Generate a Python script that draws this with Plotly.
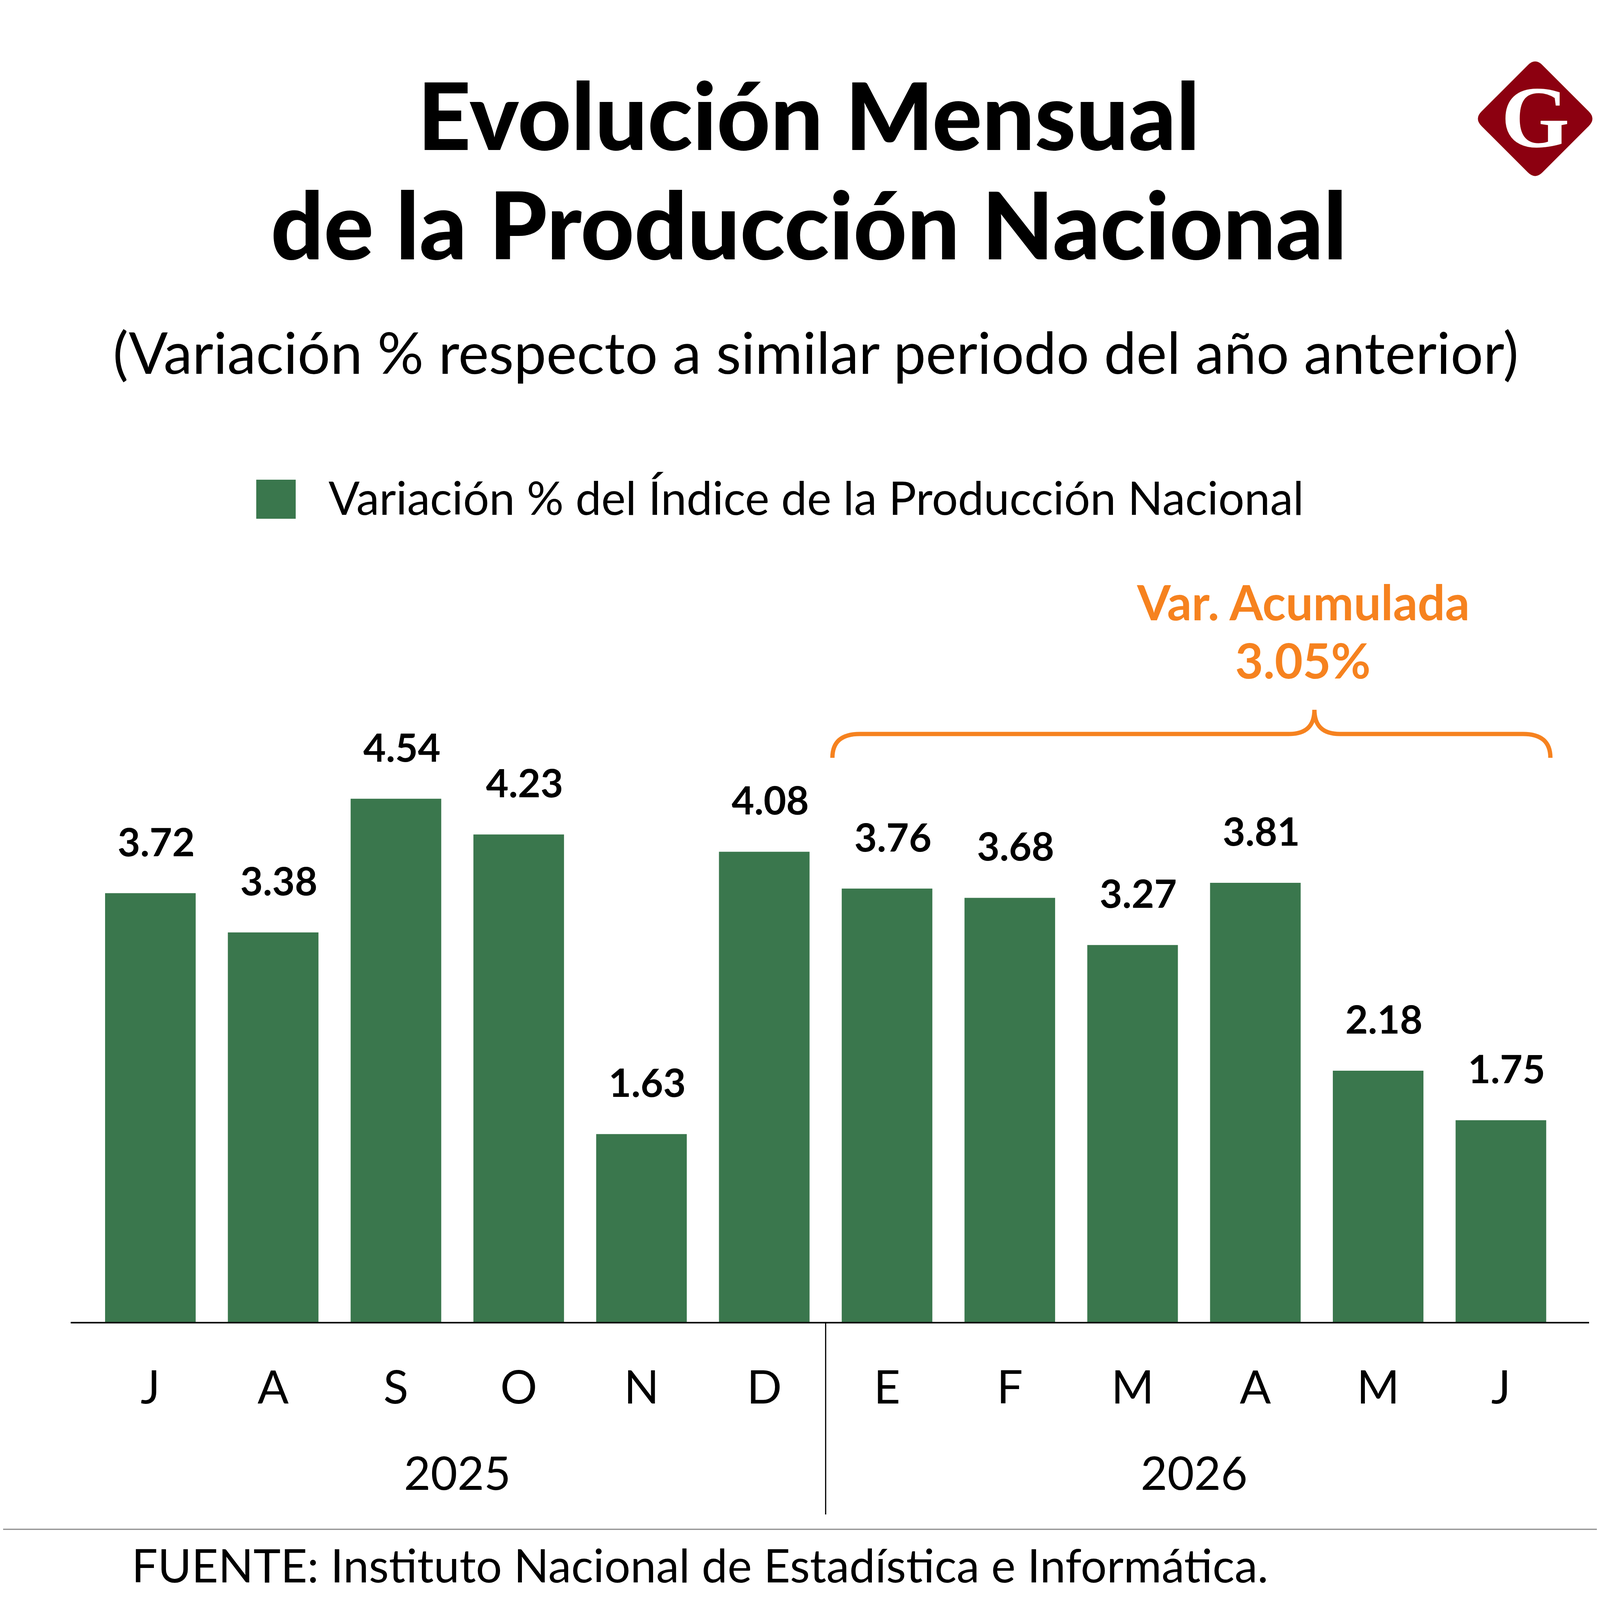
import plotly.graph_objects as go

# datos
meses = ["J", "A", "S", "O", "N", "D", "E", "F", "M", "A", "M", "J"]
anios = ["2025", "2026"]
variacion = [3.72, 3.38, 4.54, 4.23, 1.63, 4.08, 3.76, 3.68, 3.27, 3.81, 2.18, 1.75]
var_acumulada = 3.05

W, H = 4150, 4580
L, R_EDGE = 181, 4068   # plot area, px (reference coords)
TOP, BASE = 1319, 3384
OFF = 8                 # body margin of the html page

VERDE = "#3a774d"
NARANJA = "#f6821f"
GRANATE = "#8c0010"
FONT = "Lato"


def px(x):
    return (x - L) / (R_EDGE - L)


def py(y):
    return (BASE - y) / (BASE - TOP)


x = list(range(len(meses)))

fig = go.Figure()
fig.add_trace(go.Bar(x=x, y=variacion, width=0.738, marker=dict(color=VERDE, line=dict(width=0)),
                     showlegend=False, hoverinfo="skip"))

ann = []
# etiquetas de valor
for i, v in zip(x, variacion):
    ann.append(dict(x=i, y=v, xref="x", yref="y", text=f"{v:.2f}", showarrow=False,
                    yanchor="bottom", yshift=72, xshift=15,
                    font=dict(family=FONT, size=100, color="black", weight=700)))

# años
for k, a in enumerate(anios):
    ann.append(dict(x=2.5 + 6 * k, y=py(3768), xref="x", yref="paper", text=a, showarrow=False,
                    yanchor="middle", font=dict(family=FONT, size=118, color="black")))

# titulo y subtitulo
for txt, yy in [("Evolución Mensual", 292), ("de la Producción Nacional", 572)]:
    ann.append(dict(x=px(2070), y=py(yy), xref="paper", yref="paper", text=txt, showarrow=False,
                    yanchor="middle", font=dict(family=FONT, size=238, color="black", weight=900)))
ann.append(dict(x=px(2088), y=py(900), xref="paper", yref="paper",
                text="(Variación % respecto a similar periodo del año anterior)", showarrow=False,
                yanchor="middle", font=dict(family=FONT, size=148, color="black")))

# leyenda
ann.append(dict(x=px(839), y=py(1272), xref="paper", yref="paper", xanchor="left",
                text="Variación % del Índice de la Producción Nacional", showarrow=False,
                yanchor="middle", font=dict(family=FONT, size=118, color="black")))

# acumulada
ann.append(dict(x=9.389, y=py(1540), xref="x", yref="paper", text="Var. Acumulada", showarrow=False,
                yanchor="middle", font=dict(family=FONT, size=124, color=NARANJA, weight=700)))
ann.append(dict(x=9.389, y=py(1689), xref="x", yref="paper", text=f"{var_acumulada:.2f}%", showarrow=False,
                yanchor="middle", font=dict(family=FONT, size=124, color=NARANJA, weight=700)))

# fuente (subida para que quede dentro de la captura)
ann.append(dict(x=px(335), y=py(4005), xref="paper", yref="paper", xanchor="left",
                text="FUENTE: Instituto Nacional de Estadística e Informática.", showarrow=False,
                yanchor="middle", font=dict(family=FONT, size=118, color="black")))

# logo G
ann.append(dict(x=px(3930), y=py(300), xref="paper", yref="paper", text="G", showarrow=False,
                xanchor="center", yanchor="middle",
                font=dict(family="Liberation Serif", size=225, color="white", weight=700)))

shapes = []
# llave
xl, xr, xp = 5.555, 11.403, 9.481
yb, yh, yp = 4.895, 5.102, 5.312
dx, pdx = 0.223, 0.207
path = (f"M {xl},{yb} Q {xl},{yh} {xl + dx},{yh} L {xp - pdx},{yh} Q {xp},{yh} {xp},{yp} "
        f"Q {xp},{yh} {xp + pdx},{yh} L {xr - dx},{yh} Q {xr},{yh} {xr},{yb}")
shapes.append(dict(type="path", path=path, xref="x", yref="y", line=dict(color=NARANJA, width=11)))

# divisor de años
shapes.append(dict(type="line", x0=5.5, x1=5.5, y0=py(3384), y1=py(3877), xref="x", yref="paper",
                   line=dict(color="black", width=3)))
# linea gris
shapes.append(dict(type="line", x0=px(0), x1=px(W), y0=py(3915), y1=py(3915), xref="paper", yref="paper",
                   line=dict(color="#8a8a8a", width=3)))
# cuadro leyenda
shapes.append(dict(type="rect", x0=px(656), x1=px(757), y0=py(1328), y1=py(1228), xref="paper", yref="paper",
                   fillcolor=VERDE, line=dict(width=0)))

# rombo del logo
cx, cy, hs, rr = 3930, 304, 156, 0.12
pts = [(cx, cy - hs), (cx + hs, cy), (cx, cy + hs), (cx - hs, cy)]
d = ""
for k in range(4):
    p0, p1, p2 = pts[k - 1], pts[k], pts[(k + 1) % 4]
    a = (p1[0] + (p0[0] - p1[0]) * rr, p1[1] + (p0[1] - p1[1]) * rr)
    b = (p1[0] + (p2[0] - p1[0]) * rr, p1[1] + (p2[1] - p1[1]) * rr)
    d += ("M" if k == 0 else "L") + f" {px(a[0])},{py(a[1])} Q {px(p1[0])},{py(p1[1])} {px(b[0])},{py(b[1])} "
d += "Z"
shapes.append(dict(type="path", path=d, xref="paper", yref="paper", fillcolor=GRANATE, line=dict(width=0)))

fig.update_layout(
    width=W, height=H,
    margin=dict(l=L - OFF, r=W - R_EDGE + OFF, t=TOP - OFF, b=H - BASE + OFF),
    paper_bgcolor="white", plot_bgcolor="white",
    annotations=ann, shapes=shapes,
    xaxis=dict(range=[-0.649, 11.718], tickvals=x, ticktext=meses, showgrid=False, zeroline=False,
               showline=True, linecolor="black", linewidth=4, ticks="", ticklabelstandoff=63,
               tickfont=dict(family=FONT, size=118, color="black")),
    yaxis=dict(range=[0, 7], visible=False, showgrid=False, zeroline=False),
)

fig.write_html("out.html")
